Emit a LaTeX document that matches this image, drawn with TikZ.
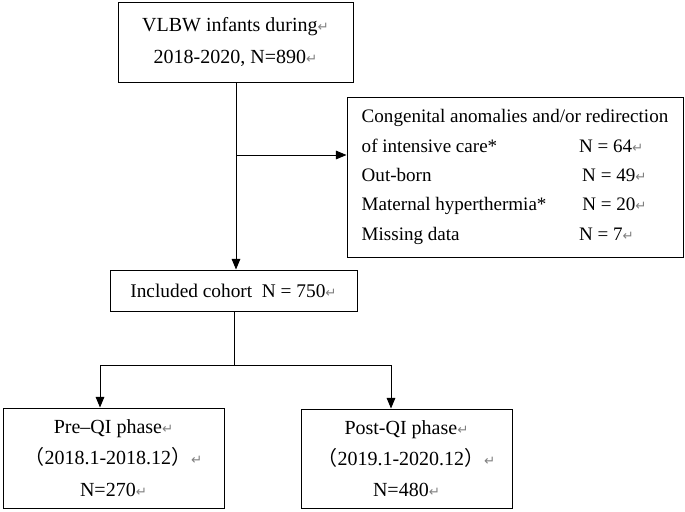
\documentclass[tikz,border=0pt]{standalone}
\usepackage{fontspec}
\setmainfont{Liberation Serif}
\newfontfamily\symfont{DejaVu Sans}
\newfontfamily\cjkfont{Noto Sans CJK SC}
\usetikzlibrary{arrows.meta}

\newcommand{\ret}{{\color{gray}\symfont\fontsize{10}{10}\selectfont ↵}}
\newcommand{\lpar}{{\cjkfont （}}
\newcommand{\rpar}{{\cjkfont ）}}
\newcommand{\exrow}[2]{\makebox[163pt][l]{#1}#2}

\tikzset{every picture/.style={line width=0.75pt}}
\tikzset{flowbox/.style={draw, rectangle, inner sep=0pt, align=center, font=\fontsize{15}{23.5}\selectfont},
  flowarrow/.style={-{Triangle[length=8pt,width=6.5pt]}}}

\begin{document}
\begin{tikzpicture}[x=0.75pt,y=0.75pt,yscale=-1,xscale=1]
\useasboundingbox (0,0) rectangle (685,511);

% Boxes
\node [flowbox, minimum width=176.25pt, minimum height=60pt, font=\fontsize{15}{24}\selectfont] (vlbw) at (235.5,42) {VLBW infants during\ret\\2018-2020, N=890\ret};
\node [flowbox, align=left, minimum width=252pt, minimum height=120pt, font=\fontsize{14.3}{22}\selectfont] (excl) at (515,177) {Congenital anomalies and/or redirection\\\exrow{of intensive care*}{N = 64\ret}\\\exrow{Out-born}{\,N = 49\ret}\\\exrow{Maternal hyperthermia*}{\,N = 20\ret}\\\exrow{Missing data}{N = 7\ret}};
\node [flowbox, minimum width=185.25pt, minimum height=30.75pt, font=\fontsize{14.5}{22}\selectfont] (incl) at (233.5,290.5) {Included cohort\hspace{0.5em}N = 750\ret};
\node [flowbox, minimum width=165.75pt, minimum height=75pt] (pre) at (113.5,458) {Pre--QI phase\ret\\\lpar 2018.1-2018.12\rpar\ret\\N=270\ret};
\node [flowbox, minimum width=158.25pt, minimum height=74.25pt] (post) at (406.5,458.5) {Post-QI phase\ret\\\lpar 2019.1-2020.12\rpar\ret\\N=480\ret};

% Connectors
\coordinate (split) at (236,155);
\coordinate (fork) at (234,365);
\coordinate (lft) at (100,365);
\coordinate (rgt) at (391,365);
\draw [flowarrow] (vlbw.south -| split) -- (split |- incl.north);
\draw [flowarrow] (split) -- (split -| excl.west);
\draw (incl.south -| fork) -- (fork);
\draw (lft) -- (rgt);
\draw [flowarrow] (lft) -- (lft |- pre.north);
\draw [flowarrow] (rgt) -- (rgt |- post.north);

\end{tikzpicture}
\end{document}
